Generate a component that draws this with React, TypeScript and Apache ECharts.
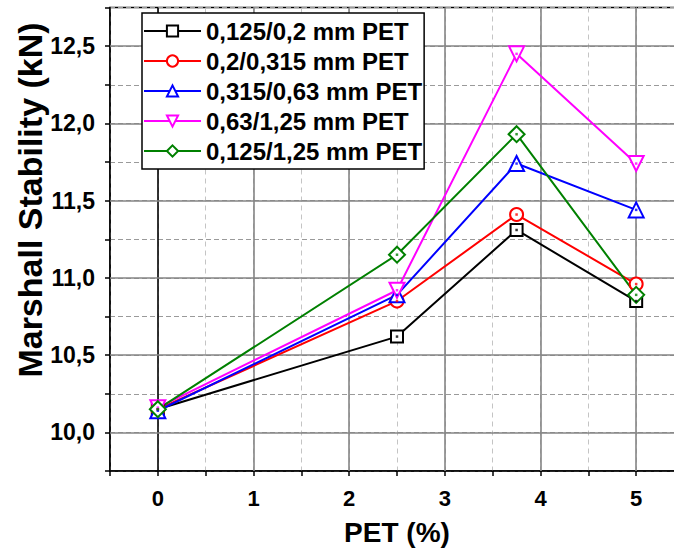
import React, { useEffect, useRef } from "react";
import * as echarts from "echarts";

const pet = [0, 2.5, 3.75, 5];
const seriesNames = [
  "0,125/0,2 mm PET",
  "0,2/0,315 mm PET",
  "0,315/0,63 mm PET",
  "0,63/1,25 mm PET",
  "0,125/1,25 mm PET",
];
const stab125_2 = [10.15, 10.62, 11.31, 10.85];
const stab2_315 = [10.15, 10.85, 11.41, 10.96];
const stab315_63 = [10.14, 10.89, 11.74, 11.44];
const stab63_125 = [10.16, 10.92, 12.45, 11.74];
const stab125_125 = [10.15, 11.15, 11.93, 10.89];
const xMajorTicks = [0, 1, 2, 3, 4, 5];
const yMajorTicks = [10, 10.5, 11, 11.5, 12, 12.5];

const colors = ["#000000", "#ff0000", "#0000ff", "#ff00ff", "#008000"];
const symbols = ["rect", "circle", "triangle", "triangle", "diamond"];
const symbolSizes = [12, 13, 15, 15, 16];
const rotations = [0, 0, 0, 180, 0];

const FONT = "'Liberation Sans', Arial, sans-serif";

export default function App() {
  const ref = useRef<HTMLDivElement>(null);
  useEffect(() => {
    if (!ref.current) return;
    const chart = echarts.init(ref.current, undefined, { renderer: "svg" });
    const all = [stab125_2, stab2_315, stab315_63, stab63_125, stab125_125];
    const lineSeries: any[] = all.map((vals, i) => ({
      name: seriesNames[i],
      type: "line",
      data: vals.map((v, j) => [pet[j], v]),
      symbol: symbols[i],
      symbolSize: symbolSizes[i],
      symbolRotate: rotations[i],
      showAllSymbol: true,
      z: 3,
      lineStyle: { color: colors[i], width: 2 },
      itemStyle: { color: "#ffffff", borderColor: colors[i], borderWidth: 2 },
      emphasis: { disabled: true },
    }));
    const dotSeries: any[] = all.map((vals, i) => ({
      name: "dot" + i,
      type: "scatter",
      data: vals.map((v, j) => [pet[j], v]),
      symbol: "rect",
      symbolSize: 2.5,
      z: 4,
      silent: true,
      itemStyle: { color: colors[i] },
    }));
    lineSeries[0].markLine = {
      silent: true,
      symbol: ["none", "none"],
      z: 1,
      label: { show: false },
      emphasis: { disabled: true },
      data: [
        ...xMajorTicks.map((x) => ({
          xAxis: x,
          lineStyle: {
            color: x === 0 ? "#000" : "#858585",
            width: 1.6,
            type: "solid",
          },
        })),
        ...yMajorTicks.map((y) => ({
          yAxis: y,
          lineStyle: { color: "#858585", width: 1.6, type: "solid" },
        })),
      ],
    };
    chart.setOption({
      animation: false,
      backgroundColor: "#ffffff",
      grid: {
        left: 110,
        width: 574,
        top: 7.5,
        height: 463.5,
        outerBoundsMode: "none",
        containLabel: false,
        show: true,
        borderColor: "#000",
        borderWidth: 1.5,
        backgroundColor: "transparent",
      },
      legend: {
        data: seriesNames,
        orient: "vertical",
        left: 142,
        top: 13,
        backgroundColor: "#ffffff",
        borderColor: "#000",
        borderWidth: 1.5,
        padding: [5, 2, 5, 1],
        itemWidth: 57,
        itemHeight: 14,
        itemGap: 4,
        z: 6,
        selectedMode: false,
        textStyle: {
          fontFamily: FONT,
          fontSize: 24,
          fontWeight: "bold",
          color: "#000",
          lineHeight: 26,
        },
      },
      xAxis: {
        type: "value",
        min: -0.5,
        max: 5.5,
        interval: 0.5,
        name: "PET (%)",
        nameLocation: "middle",
        nameGap: 47,
        nameTextStyle: {
          fontFamily: FONT,
          fontSize: 28,
          fontWeight: "bold",
          color: "#000",
        },
        axisLine: { onZero: false, lineStyle: { color: "#000", width: 1.5 } },
        axisTick: { show: true, length: 5, lineStyle: { color: "#000", width: 1.5 } },
        axisLabel: {
          margin: 16,
          fontFamily: FONT,
          fontSize: 22,
          fontWeight: "bold",
          color: "#000",
          showMinLabel: true,
          showMaxLabel: true,
          formatter: (v: number) =>
            Math.abs(v - Math.round(v)) < 1e-6 ? String(Math.round(v)) : "",
        },
        splitLine: {
          show: true,
          lineStyle: { color: "#c4c4c4", width: 1, type: [5, 4] },
        },
      },
      yAxis: {
        type: "value",
        min: 9.75,
        max: 12.75,
        interval: 0.25,
        axisLine: { onZero: false, lineStyle: { color: "#000", width: 1.5 } },
        axisTick: { show: true, length: 5, lineStyle: { color: "#000", width: 1.5 } },
        axisLabel: {
          margin: 15,
          fontFamily: FONT,
          fontSize: 23,
          fontWeight: "bold",
          color: "#000",
          formatter: (v: number) => {
            const k = Math.round(v * 4);
            return k % 2 === 0 ? v.toFixed(1).replace(".", ",") : "";
          },
        },
        splitLine: {
          show: true,
          lineStyle: { color: "#9a9a9a", width: 1, type: [5, 3] },
        },
      },
      graphic: [
        {
          type: "text",
          x: 30,
          y: 200,
          rotation: Math.PI / 2,
          style: {
            text: "Marshall Stability (kN)",
            font: `bold 34px ${FONT}`,
            fill: "#000",
            textAlign: "center",
            textVerticalAlign: "middle",
          },
        },
      ],
      series: [...lineSeries, ...dotSeries],
    });
    return () => chart.dispose();
  }, []);
  return (
    <div
      ref={ref}
      style={{ position: "fixed", left: 0, top: 0, width: 674, height: 553 }}
    />
  );
}
